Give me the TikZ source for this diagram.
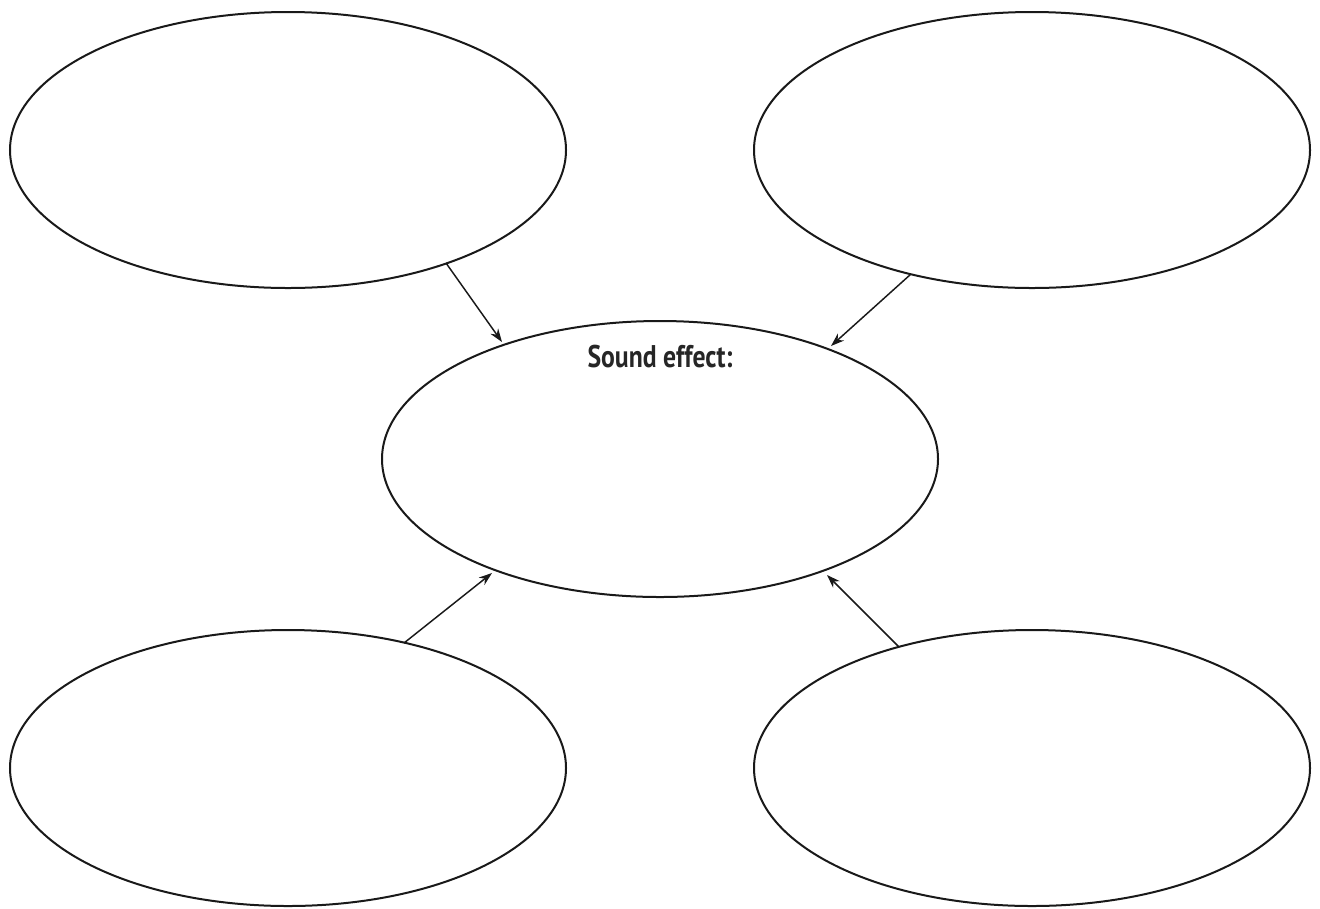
\documentclass[tikz,border=0pt]{standalone}
\usepackage{fontspec}
\setmainfont{PT Sans}
\usetikzlibrary{shapes.geometric,arrows.meta}
\begin{document}
\begin{tikzpicture}[x=0.75pt,y=-0.75pt,
  bubble/.style={draw=black!90,line width=1.5pt,ellipse,minimum width=417pt,minimum height=207pt,inner sep=0pt},
  link/.style={draw=black!90,line width=1.1pt,-{Stealth[length=10pt,width=7pt]}},
  lbl/.style={font=\fontsize{23.5}{28}\selectfont\bfseries,inner sep=0pt,anchor=base,text=black!85}]
\useasboundingbox (0,0) rectangle (1320,908);
\node[bubble] (tl) at (288,150) {};
\node[bubble] (tr) at (1032,150) {};
\node[bubble] (c) at (660,459) {};
\node[bubble] (bl) at (288,768) {};
\node[bubble] (br) at (1032,768) {};
\node[lbl] (title) at (660,367) {\scalebox{0.82}[1]{Sound effect:}};
\coordinate (s1) at (446,263);
\coordinate (e1) at (502,342);
\coordinate (s2) at (911,274);
\coordinate (e2) at (831,346);
\coordinate (s3) at (404,643);
\coordinate (e3) at (492,573);
\coordinate (s4) at (899,647);
\coordinate (e4) at (827,575);
\draw[link] (s1) -- (e1);
\draw[link] (s2) -- (e2);
\draw[link] (s3) -- (e3);
\draw[link] (s4) -- (e4);
\end{tikzpicture}
\end{document}
